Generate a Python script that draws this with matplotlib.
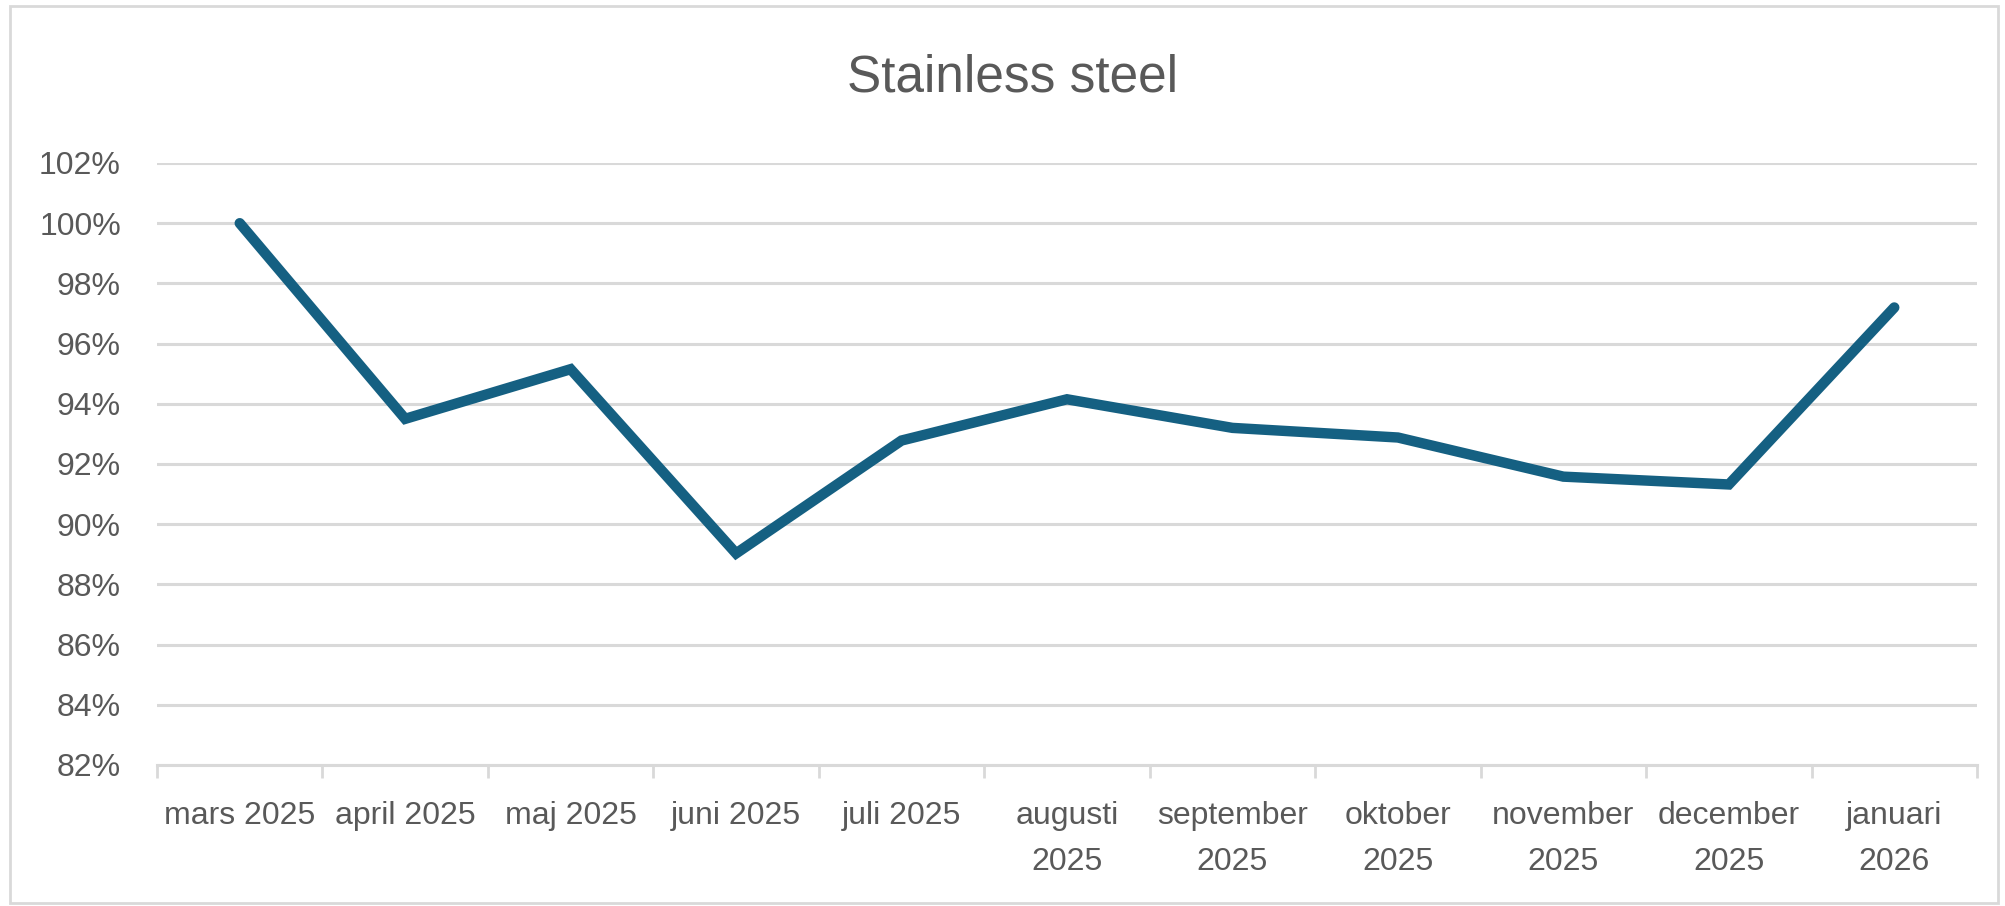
import matplotlib.pyplot as plt
from matplotlib.patches import Rectangle
from matplotlib.ticker import FuncFormatter, FixedLocator

months = ['mars 2025', 'april 2025', 'maj 2025', 'juni 2025', 'juli 2025',
          'augusti\n2025', 'september\n2025', 'oktober\n2025', 'november\n2025',
          'december\n2025', 'januari\n2026']
values = [1.000, 0.935, 0.9515, 0.8903, 0.9278, 0.9415, 0.932, 0.9288, 0.9158, 0.9132, 0.972]
yticks = [0.82, 0.84, 0.86, 0.88, 0.90, 0.92, 0.94, 0.96, 0.98, 1.00, 1.02]

plt.rcParams['font.family'] = ['Liberation Sans Narrow', 'Liberation Sans', 'DejaVu Sans']
grey = '#595959'
gridc = '#d9d9d9'

fig = plt.figure(figsize=(20.06, 9.06), dpi=100)
ax = fig.add_axes([157 / 2006, 1 - 765 / 906, 1820 / 2006, 602 / 906])

x = list(range(len(months)))
ax.plot(x, values, color='#156082', lw=7.5, solid_capstyle='round', solid_joinstyle='miter', zorder=3)

ax.set_xlim(-0.5, len(months) - 0.5)
ax.set_ylim(0.82, 1.02)
ax.set_yticks(yticks)
ax.yaxis.set_major_formatter(FuncFormatter(lambda v, p: f'{v * 100:.0f}%'))
ax.grid(axis='y', color=gridc, lw=2.2)
ax.set_axisbelow(True)

ax.set_xticks(x)
ax.set_xticklabels(months, linespacing=1.7)
ax.xaxis.set_minor_locator(FixedLocator([i - 0.5 for i in range(len(months) + 1)]))
ax.tick_params(axis='x', which='major', length=0, pad=26, labelsize=23, labelcolor=grey)
ax.tick_params(axis='x', which='minor', length=9, width=2, color=gridc)
ax.tick_params(axis='y', length=0, pad=26, labelsize=23, labelcolor=grey)

for s in ['top', 'right', 'left']:
    ax.spines[s].set_visible(False)
ax.spines['bottom'].set_color(gridc)
ax.spines['bottom'].set_linewidth(2.2)

fig.text(0.505, 1 - 92 / 906, 'Stainless steel', ha='center', va='baseline',
         fontsize=37, color=grey)

fig.patches.append(Rectangle((10 / 2006, 3 / 906), 1988 / 2006, 897 / 906,
                             transform=fig.transFigure, fill=False, ec=gridc, lw=2))

fig.savefig('out.png', dpi=100)
